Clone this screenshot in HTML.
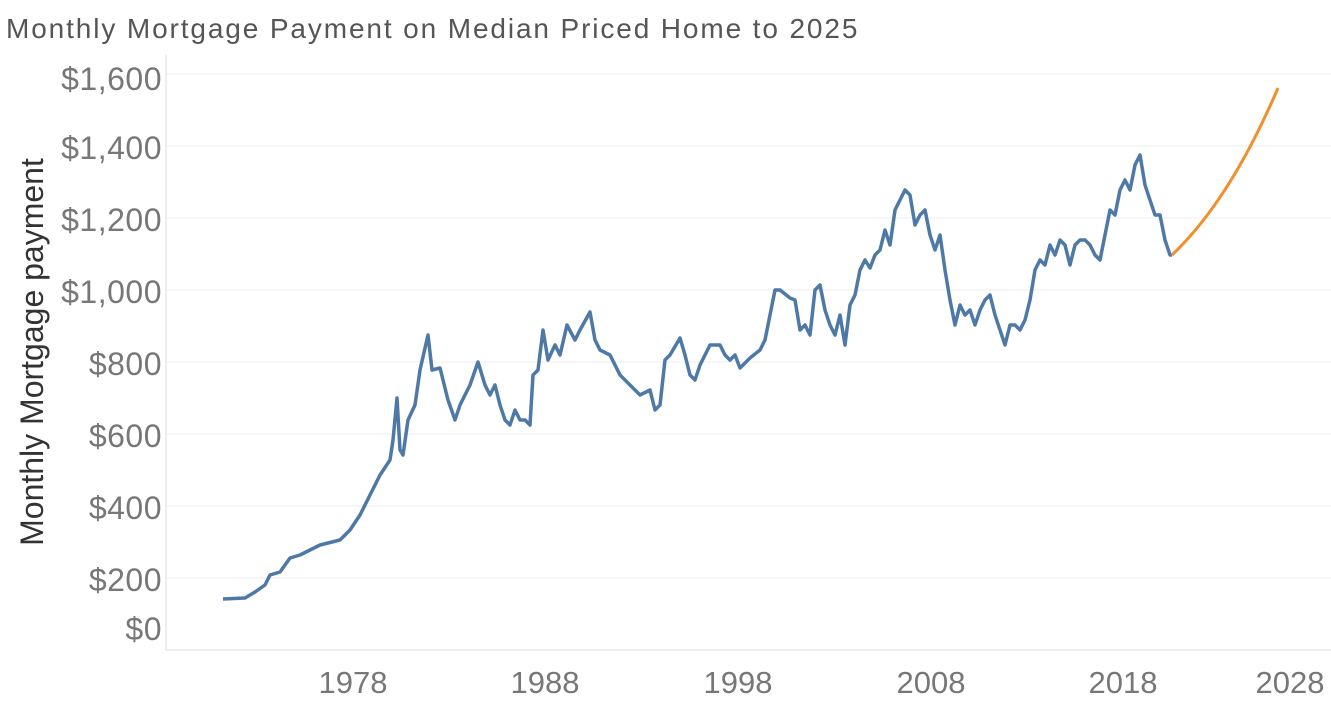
<!DOCTYPE html>
<html><head><style>
body{margin:0;background:#fff;width:1331px;height:702px;overflow:hidden;font-family:"Liberation Sans",sans-serif}
</style></head><body>
<svg width="1331" height="702" viewBox="0 0 1331 702" xmlns="http://www.w3.org/2000/svg">
<text x="6" y="38" font-size="28" fill="#555" letter-spacing="0.6" textLength="852" font-family="Liberation Sans, sans-serif">Monthly Mortgage Payment on  Median Priced Home to 2025</text>
<g stroke="#ececec" stroke-width="1">
<line x1="166" x2="1331" y1="74" y2="74"/>
<line x1="166" x2="1331" y1="146" y2="146"/>
<line x1="166" x2="1331" y1="218" y2="218"/>
<line x1="166" x2="1331" y1="290" y2="290"/>
<line x1="166" x2="1331" y1="362" y2="362"/>
<line x1="166" x2="1331" y1="434" y2="434"/>
<line x1="166" x2="1331" y1="506" y2="506"/>
<line x1="166" x2="1331" y1="578" y2="578"/>
</g>
<line x1="166" x2="1331" y1="650" y2="650" stroke="#ddd"/>
<line x1="166" x2="166" y1="55" y2="650" stroke="#ddd"/>
<g font-size="32" fill="#777" text-anchor="end" letter-spacing="0.5" font-family="Liberation Sans, sans-serif">
<text x="162" y="90">$1,600</text>
<text x="162" y="159">$1,400</text>
<text x="162" y="231">$1,200</text>
<text x="162" y="303">$1,000</text>
<text x="162" y="375">$800</text>
<text x="162" y="447">$600</text>
<text x="162" y="519">$400</text>
<text x="162" y="591">$200</text>
<text x="162" y="640">$0</text>
</g>
<text transform="translate(43,352) rotate(-90)" font-size="32" fill="#333" text-anchor="middle" font-family="Liberation Sans, sans-serif">Monthly Mortgage payment</text>
<g font-size="31" fill="#777" text-anchor="middle" font-family="Liberation Sans, sans-serif">
<text x="353" y="693">1978</text>
<text x="545" y="693">1988</text>
<text x="738" y="693">1998</text>
<text x="931" y="693">2008</text>
<text x="1123" y="693">2018</text>
<text x="1290" y="693">2028</text>
</g>
<polyline fill="none" stroke="#4e79a7" stroke-width="3.5" stroke-linejoin="round" points="223,599 245,598 255,592 265,585 270,575 280,572 290,558 300,555 310,550 320,545 340,540 350,530 360,515 370,495 380,475 390,460 393,440 397,398 400,450 403,455 408,420 415,405 420,370 428,335 432,370 440,368 448,400 455,420 460,405 465,395 470,385 478,362 485,385 490,395 495,385 500,405 505,420 510,425 515,410 520,420 525,420 530,425 533,375 538,370 543,330 548,360 555,345 560,355 567,325 575,340 580,330 590,312 595,340 600,350 610,355 620,375 630,385 640,395 650,390 655,410 660,405 665,360 670,355 680,338 685,355 690,375 695,380 700,365 705,355 710,345 720,345 725,355 730,360 735,355 740,368 750,358 760,350 765,340 770,315 775,290 780,290 790,298 795,300 800,330 805,325 810,335 815,290 820,285 825,310 830,325 835,335 840,315 845,345 850,305 855,295 860,270 865,260 870,268 875,255 880,250 885,230 890,245 895,210 900,200 905,190 910,195 915,225 920,215 925,210 930,235 935,250 940,235 945,270 950,300 955,325 960,305 965,315 970,310 975,325 980,310 985,300 990,295 995,315 1000,330 1005,345 1010,325 1015,325 1020,330 1025,320 1030,300 1035,270 1040,260 1045,265 1050,245 1055,255 1060,240 1065,245 1070,265 1075,245 1080,240 1085,240 1090,245 1095,255 1100,260 1105,235 1110,210 1115,215 1120,190 1125,180 1130,190 1135,165 1140,155 1145,185 1150,200 1155,215 1160,215 1165,240 1170,255 1172,255"/>
<path d="M1172,255 Q1230,200 1278,88" fill="none" stroke="#f28e2b" stroke-width="3"/>
</svg>
</body></html>
